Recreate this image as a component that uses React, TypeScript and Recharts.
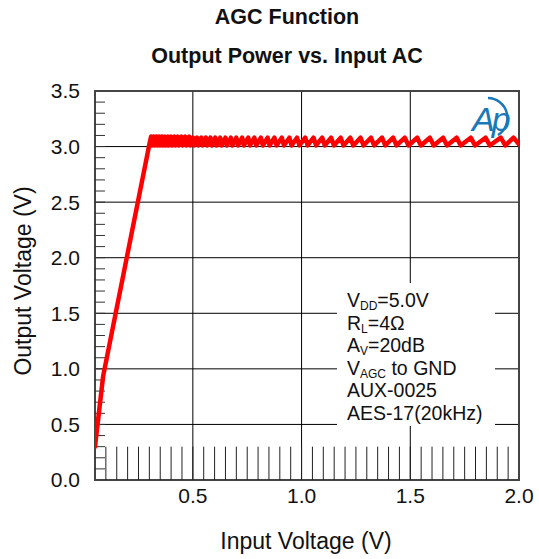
import React from "react";
import {
  CartesianGrid,
  Line,
  LineChart,
  ReferenceArea,
  ReferenceLine,
  XAxis,
  YAxis,
} from "recharts";

// rising (unclamped) part of the curve
const rampX = [0.05, 0.087, 0.3];
const rampY = [0.3, 0.93, 3.02];

// AGC stepping region: trough / peak pairs
const waveX = [
  0.308, 0.311, 0.319, 0.323, 0.332, 0.336, 0.345, 0.349, 0.358, 0.362,
  0.372, 0.376, 0.386, 0.39, 0.4, 0.405, 0.415, 0.42, 0.431, 0.436,
  0.448, 0.453, 0.465, 0.47, 0.483, 0.488, 0.501, 0.506, 0.519, 0.525,
  0.539, 0.545, 0.56, 0.566, 0.581, 0.588, 0.603, 0.61, 0.626, 0.633,
  0.65, 0.657, 0.675, 0.682, 0.7, 0.708, 0.727, 0.735, 0.755, 0.763,
  0.783, 0.792, 0.813, 0.822, 0.844, 0.853, 0.875, 0.885, 0.909, 0.919,
  0.944, 0.954, 0.979, 0.99, 1.017, 1.028, 1.055, 1.067, 1.095, 1.107,
  1.136, 1.149, 1.18, 1.193, 1.224, 1.238, 1.271, 1.285, 1.319, 1.334,
  1.37, 1.385, 1.421, 1.437, 1.475, 1.492, 1.532, 1.549, 1.59, 1.608,
  1.651, 1.669, 1.713, 1.732, 1.778, 1.798, 1.846, 1.866, 1.916, 1.937,
  1.975, 2.0,
];
const waveY = [
  3.09, 3.01, 3.09, 3.01, 3.09, 3.01, 3.09, 3.01, 3.09, 3.01,
  3.09, 3.01, 3.09, 3.01, 3.09, 3.01, 3.09, 3.01, 3.09, 3.01,
  3.09, 3.01, 3.09, 3.01, 3.09, 3.01, 3.08, 3.01, 3.08, 3.01,
  3.08, 3.01, 3.08, 3.01, 3.08, 3.01, 3.08, 3.01, 3.08, 3.01,
  3.08, 3.01, 3.08, 3.01, 3.08, 3.01, 3.08, 3.01, 3.08, 3.01,
  3.08, 3.01, 3.08, 3.01, 3.08, 3.01, 3.08, 3.01, 3.08, 3.01,
  3.08, 3.01, 3.08, 3.01, 3.08, 3.01, 3.08, 3.01, 3.08, 3.01,
  3.08, 3.01, 3.08, 3.01, 3.08, 3.01, 3.08, 3.01, 3.08, 3.01,
  3.08, 3.01, 3.08, 3.01, 3.08, 3.01, 3.08, 3.01, 3.08, 3.01,
  3.08, 3.01, 3.08, 3.01, 3.08, 3.01, 3.08, 3.01, 3.08, 3.01,
  3.08, 3.02,
];

const xTicks = [0.5, 1.0, 1.5, 2.0];
const yTicks = [0, 0.5, 1.0, 1.5, 2.0, 2.5, 3.0, 3.5];
const xMinorTicks = [
  0.1, 0.15, 0.2, 0.25, 0.3, 0.35, 0.4, 0.45, 0.5, 0.55, 0.6, 0.65, 0.7,
  0.75, 0.8, 0.85, 0.9, 0.95, 1.0, 1.05, 1.1, 1.15, 1.2, 1.25, 1.3, 1.35,
  1.4, 1.45, 1.5, 1.55, 1.6, 1.65, 1.7, 1.75, 1.8, 1.85, 1.9, 1.95,
];
const yMinorTicks = [
  0.1, 0.2, 0.3, 0.4, 0.5, 0.6, 0.7, 0.8, 0.9, 1.0, 1.1, 1.2, 1.3, 1.4,
  1.5, 1.6, 1.7, 1.8, 1.9, 2.0, 2.1, 2.2, 2.3, 2.4, 2.5, 2.6, 2.7, 2.8,
  2.9, 3.0, 3.1, 3.2, 3.3, 3.4,
];

const curveX = [...rampX, ...waveX];
const curveY = [...rampY, ...waveY];
const data = curveX.map((x, i) => ({ x, y: curveY[i] }));

const X_MIN = 0.05;
const X_MAX = 2;
const Y_MIN = 0;
const Y_MAX = 3.5;
// minor tick lengths in data units (~33px up, ~10px right)
const X_MINOR_LEN = 0.3;
const Y_MINOR_LEN = 0.046;

const FONT = "'Liberation Sans', Arial, sans-serif";

const subStyle: React.CSSProperties = {
  fontSize: 12,
  position: "relative",
  top: 3,
  lineHeight: 0,
};

function Logo() {
  return (
    <svg
      width={60}
      height={60}
      style={{ position: "absolute", left: 460, top: 88 }}
    >
      <path
        d="M 28 10 A 20 20 0 0 1 38 47"
        fill="none"
        stroke="#1b78b8"
        strokeWidth={2.5}
      />
      <text
        x={12}
        y={43}
        fontFamily={FONT}
        fontStyle="italic"
        fontSize={34}
        fill="#1b78b8"
        letterSpacing={-3}
      >
        Ap
      </text>
    </svg>
  );
}

export default function App() {
  return (
    <div
      style={{
        position: "absolute",
        left: 0,
        top: 0,
        width: 539,
        height: 559,
        background: "#fff",
        fontFamily: FONT,
        color: "#111",
      }}
    >
      <LineChart
        width={539}
        height={559}
        data={data}
        margin={{ top: 91, right: 20, bottom: 0, left: 0 }}
      >
        <CartesianGrid stroke="#000" strokeWidth={1} />
        <XAxis
          dataKey="x"
          type="number"
          domain={[X_MIN, X_MAX]}
          allowDataOverflow
          ticks={xTicks}
          tickFormatter={(v: number) => v.toFixed(1)}
          height={79}
          tickSize={0}
          tickMargin={8}
          axisLine={false}
          tick={{ fontSize: 21, fill: "#111", fontFamily: FONT }}
        />
        <YAxis
          type="number"
          domain={[Y_MIN, Y_MAX]}
          allowDataOverflow
          ticks={yTicks}
          tickFormatter={(v: number) => v.toFixed(1)}
          width={95}
          tickSize={0}
          tickMargin={15}
          axisLine={false}
          tick={{ fontSize: 21, fill: "#111", fontFamily: FONT }}
        />
        {xMinorTicks.map((v) => (
          <ReferenceLine
            key={`xm${v}`}
            segment={[
              { x: v, y: Y_MIN },
              { x: v, y: Y_MIN + X_MINOR_LEN },
            ]}
            stroke="#222"
            strokeWidth={1}
          />
        ))}
        {yMinorTicks.map((v) => (
          <ReferenceLine
            key={`ym${v}`}
            segment={[
              { x: X_MIN, y: v },
              { x: X_MIN + Y_MINOR_LEN, y: v },
            ]}
            stroke="#333"
            strokeWidth={1}
          />
        ))}
        <ReferenceArea
          x1={X_MIN}
          x2={X_MAX}
          y1={Y_MIN}
          y2={Y_MAX}
          fill="none"
          stroke="#444"
          strokeWidth={2}
        />
        <Line
          type="linear"
          dataKey="y"
          stroke="#ff0000"
          strokeWidth={4.5}
          strokeLinejoin="round"
          strokeLinecap="round"
          dot={false}
          isAnimationActive={false}
        />
      </LineChart>

      <div
        style={{
          position: "absolute",
          left: 287,
          top: 5,
          transform: "translateX(-50%)",
          whiteSpace: "nowrap",
          fontWeight: "bold",
          fontSize: 21.5,
          lineHeight: "24px",
        }}
      >
        AGC Function
      </div>
      <div
        style={{
          position: "absolute",
          left: 287,
          top: 44,
          transform: "translateX(-50%)",
          whiteSpace: "nowrap",
          fontWeight: "bold",
          fontSize: 21.5,
          lineHeight: "24px",
        }}
      >
        Output Power vs. Input AC
      </div>

      <div
        style={{
          position: "absolute",
          left: 306,
          top: 528,
          transform: "translateX(-50%)",
          whiteSpace: "nowrap",
          fontSize: 23,
          lineHeight: "26px",
        }}
      >
        Input Voltage (V)
      </div>
      <div
        style={{
          position: "absolute",
          left: 23,
          top: 281,
          transform: "translate(-50%, -50%) rotate(-90deg)",
          whiteSpace: "nowrap",
          fontSize: 23,
          lineHeight: "26px",
        }}
      >
        Output Voltage (V)
      </div>

      <div
        style={{
          position: "absolute",
          left: 337,
          top: 283,
          width: 158,
          height: 143,
          background: "#fff",
          boxSizing: "border-box",
          paddingLeft: 10,
          paddingTop: 6,
          fontSize: 19.5,
          lineHeight: "22.5px",
          whiteSpace: "nowrap",
        }}
      >
        <div>
          V<span style={subStyle}>DD</span>=5.0V
        </div>
        <div>
          R<span style={subStyle}>L</span>=4Ω
        </div>
        <div>
          A<span style={subStyle}>V</span>=20dB
        </div>
        <div>
          V<span style={subStyle}>AGC</span> to GND
        </div>
        <div>AUX-0025</div>
        <div>AES-17(20kHz)</div>
      </div>

      <Logo />
    </div>
  );
}
